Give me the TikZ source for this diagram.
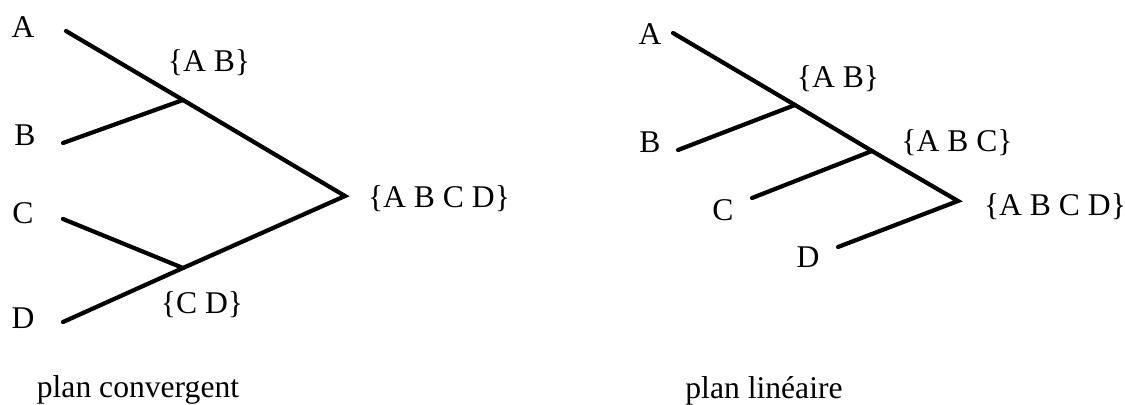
\documentclass[tikz,border=0pt]{standalone}
\usepackage{fontspec}
\setmainfont{Liberation Serif}
\tikzset{
  lbl/.style={anchor=base, font=\fontsize{18}{21}\selectfont, inner sep=0pt},
  branch/.style={line width=2.4pt, line cap=round},
}
\begin{document}
\begin{tikzpicture}[x=0.02cm, y=-0.02cm]
    \useasboundingbox (0,0) rectangle (1125,405);
    % plan convergent
    \foreach \n/\x/\y in {A/23/38, B/25/146, C/23/223, D/23/328}{
        \node[lbl] (l\n) at (\x, \y) {\n};
    }
    \foreach \n/\x/\y in {A/66/31, B/63/143, C/63/219, D/63/322}{
        \coordinate (l\n e) at (\x, \y);
    }
    \coordinate (lAB) at (183, 100);
    \coordinate (lCD) at (183, 268);
    \coordinate (lABCD) at (345, 196);
    \draw[branch] (lAe) -- (lAB) -- (lABCD) -- (lCD) -- (lDe);
    \draw[branch] (lBe) -- (lAB);
    \draw[branch] (lCe) -- (lCD);
    \node[lbl] (slAB) at (209, 72) {\{A B\}};
    \node[lbl] (slCD) at (202, 313) {\{C D\}};
    \node[lbl] (slABCD) at (439, 208) {\{A B C D\}};
    \node[lbl] (capl) at (138, 397) {plan convergent};
    % plan lineaire
    \foreach \n/\x/\y in {A/650/45, B/650/153, C/723/220, D/808/267}{
        \node[lbl] (r\n) at (\x, \y) {\n};
    }
    \foreach \n/\x/\y in {A/673/33, B/678/150, C/752/198, D/838/247}{
        \coordinate (r\n e) at (\x, \y);
    }
    \coordinate (rAB) at (795, 105);
    \coordinate (rABC) at (872, 151);
    \coordinate (rABCD) at (958, 201);
    \draw[branch] (rAe) -- (rAB) -- (rABC) -- (rABCD) -- (rDe);
    \draw[branch] (rBe) -- (rAB);
    \draw[branch] (rCe) -- (rABC);
    \node[lbl] (srAB) at (838, 88) {\{A B\}};
    \node[lbl] (srABC) at (957, 152) {\{A B C\}};
    \node[lbl] (srABCD) at (1055, 215) {\{A B C D\}};
    \node[lbl] (capr) at (764, 398) {plan linéaire};
\end{tikzpicture}
\end{document}
